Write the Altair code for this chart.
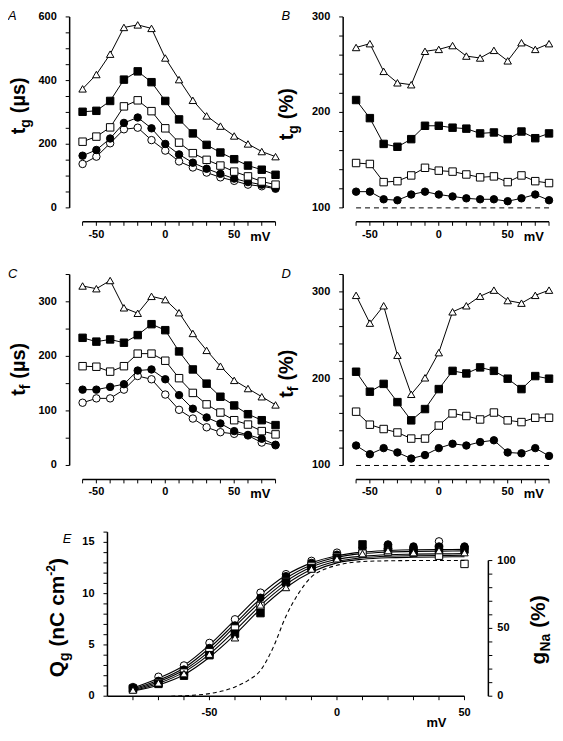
import altair as alt
import pandas as pd

FONT = "Liberation Sans"

# ---------------- data ----------------
mv = list(range(-60, 81, 10))
names = ["oci", "fci", "osq", "fsq", "tri"]
shape_range = ["circle", "circle", "square", "square", "triangle-up"]
fill_range = ["white", "black", "white", "black", "white"]
size_range = [56, 56, 72, 72, 80]

# Panel A: t_g (us)
a_tri = [374, 419, 483, 567, 575, 564, 471, 403, 338, 289, 257, 226, 201, 177, 161]
a_fsq = [302, 305, 336, 403, 429, 395, 336, 278, 234, 198, 174, 153, 133, 120, 104]
a_osq = [208, 224, 253, 319, 338, 304, 250, 205, 172, 151, 133, 114, 99, 83, 73]
a_fci = [164, 182, 218, 267, 284, 250, 201, 168, 142, 123, 107, 92, 81, 73, 62]
a_oci = [138, 161, 203, 247, 252, 213, 180, 146, 127, 111, 96, 85, 73, 68, 60]

# Panel B: t_g (%)
b_tri = [268, 272, 243, 231, 229, 264, 266, 270, 259, 257, 265, 254, 273, 266, 272]
b_fsq = [213, 194, 167, 164, 172, 186, 186, 184, 183, 178, 179, 172, 180, 173, 178]
b_osq = [147, 146, 127, 128, 134, 142, 139, 138, 135, 132, 133, 127, 134, 128, 126]
b_fci = [117, 117, 109, 108, 114, 117, 114, 112, 110, 109, 109, 107, 110, 114, 108]

# Panel C: t_f (us)
c_tri = [329, 324, 339, 289, 279, 310, 304, 280, 242, 211, 182, 156, 141, 126, 111]
c_fsq = [234, 227, 231, 225, 239, 259, 248, 209, 176, 150, 126, 110, 94, 83, 74]
c_osq = [182, 181, 172, 182, 205, 205, 192, 160, 133, 112, 97, 83, 75, 63, 57]
c_fci = [139, 139, 144, 149, 174, 176, 158, 129, 104, 88, 77, 63, 56, 49, 38]
c_oci = [115, 123, 123, 139, 164, 158, 130, 102, 86, 70, 61, 58, 55, 42, 37]

# Panel D: t_f (%)
d_tri = [296, 264, 284, 227, 182, 201, 230, 277, 284, 295, 302, 290, 287, 296, 302]
d_fsq = [208, 185, 194, 173, 152, 165, 188, 209, 206, 213, 209, 200, 188, 203, 200]
d_osq = [162, 147, 142, 138, 131, 131, 146, 160, 157, 153, 161, 152, 150, 155, 155]
d_fci = [123, 113, 120, 115, 108, 112, 120, 125, 123, 127, 129, 115, 114, 120, 111]

# Panel E: Q_g (nC cm-2)
e_mv = list(range(-80, 51, 10))
e_oci = [0.9, 1.9, 3.0, 5.2, 7.5, 10.1, 11.9, 13.2, 14.0, 14.1, 14.4, 14.3, 15.1, 14.4]
e_fci = [0.8, 1.5, 2.6, 4.7, 6.9, 9.6, 11.7, 13.0, 13.8, 14.4, 14.8, 14.6, 14.6, 14.6]
e_osq = [0.7, 1.3, 2.3, 4.3, 6.6, 8.8, 11.2, 12.7, 13.6, 13.9, 14.1, 14.0, 13.7, 12.9]
e_fsq = [0.75, 1.2, 2.0, 4.0, 6.1, 8.1, 11.1, 12.5, 13.5, 14.8, 14.5, 14.2, 14.4, 14.3]
e_tri = [0.6, 1.3, 2.2, 4.1, 5.7, 8.9, 10.6, 12.4, 13.4, 13.9, 14.2, 14.0, 14.2, 14.0]

# fitted curves at each 10 mV
fit1 = [0.8, 1.75, 3.0, 5.0, 7.45, 9.9, 11.8, 13.0, 13.7, 14.05, 14.2, 14.28, 14.3, 14.32]
fit2 = [0.7, 1.55, 2.75, 4.7, 7.1, 9.5, 11.5, 12.8, 13.55, 13.9, 14.05, 14.12, 14.15, 14.17]
fit3 = [0.6, 1.4, 2.55, 4.4, 6.8, 9.2, 11.2, 12.6, 13.35, 13.65, 13.8, 13.85, 13.88, 13.9]
fit4 = [0.55, 1.25, 2.35, 4.1, 6.4, 8.85, 10.9, 12.35, 13.15, 13.5, 13.65, 13.7, 13.72, 13.75]
fit5 = [0.5, 1.1, 2.1, 3.8, 6.0, 8.5, 10.6, 12.1, 13.0, 13.35, 13.5, 13.55, 13.58, 13.6]

# g_Na (%) dashed curve
gna_mv = [-65, -60, -55, -50, -45, -40, -35, -30, -25, -20, -15, -10, -5, 0, 10, 20, 30, 40, 50]
gna_pct = [0, 0.3, 0.9, 1.9, 3.8, 6.8, 11.5, 19, 36, 59, 76, 88, 93.5, 96.5, 99.3, 99.8, 100, 100, 100]

# axis tick / label values
x_ticks = mv
x_labels = [-50, 0, 50]
e_x_ticks = e_mv
e_y_ticks = list(range(0, 17))
e_y_labels = [0, 5, 10, 15]
gna_ticks = list(range(0, 101, 10))
gna_labels = [0, 50, 100]

# ---------------- helpers ----------------
CW = {"t": .333, "g": .611, " ": .278, "(": .333, ")": .333, "\u00b5": .611, "s": .556,
      "%": .889, "f": .333, "Q": .778, "n": .611, "C": .722, "c": .556, "m": .889,
      "-": .333, "2": .556, "N": .722, "a": .556}
LBL = dict(font=FONT, fontWeight="bold", fontSize=11, color="black")


def one(txt):
    return alt.Chart(pd.DataFrame({"t": [txt]}))


def vtitle(parts, bx, y0):
    """parts: (text, fontsize, dx, gap_before); rotated text reading bottom-to-top"""
    out = []
    y = y0
    for txt, size, dx, gap in parts:
        y -= gap
        w = sum(CW.get(ch, 0.556) for ch in txt) * size
        out.append(one(txt).mark_text(angle=270, align="left", baseline="alphabetic", font=FONT,
                                      fontWeight="bold", fontSize=size, color="black")
                   .encode(text="t:N", x=alt.value(bx + dx), y=alt.value(y)))
        y -= w
    return out


def letter(ch, x, y):
    return one(ch).mark_text(align="left", baseline="alphabetic", font=FONT, fontStyle="italic",
                             fontSize=13, color="black").encode(text="t:N", x=alt.value(x), y=alt.value(y))


def mv_label(xsc, xd, y):
    return one("mV").mark_text(align="center", baseline="middle", font=FONT, fontWeight="bold",
                               fontSize=13, color="black").encode(
        text="t:N", x=alt.X("p:Q", scale=xsc, axis=None), y=alt.value(y)).transform_calculate(p=str(xd))


def y_axis(sc, lo, hi, ticks, labels, ax, side="left", tl=4, gap=9):
    sgn = -1 if side == "left" else 1
    line = alt.Chart(pd.DataFrame({"lo": [lo], "hi": [hi]})).mark_rule(
        color="black", strokeWidth=1.5).encode(
        x=alt.value(ax), y=alt.Y("lo:Q", scale=sc, axis=None), y2="hi:Q")
    tk = alt.Chart(pd.DataFrame({"v": ticks})).mark_rule(color="black", strokeWidth=1).encode(
        x=alt.value(ax), x2=alt.value(ax + sgn * tl), y=alt.Y("v:Q", scale=sc, axis=None))
    lb = alt.Chart(pd.DataFrame({"v": labels, "lab": [str(v) for v in labels]})).mark_text(
        align="right" if side == "left" else "left", baseline="middle", **LBL).encode(
        x=alt.value(ax + sgn * (tl + gap)), y=alt.Y("v:Q", scale=sc, axis=None), text="lab:N")
    return [line, tk, lb]


def x_axis(sc, lo, hi, ticks, labels, ay, tl=4, lab_center=13):
    line = alt.Chart(pd.DataFrame({"lo": [lo], "hi": [hi]})).mark_rule(
        color="black", strokeWidth=1.5).encode(
        y=alt.value(ay), x=alt.X("lo:Q", scale=sc, axis=None), x2="hi:Q")
    tk = alt.Chart(pd.DataFrame({"v": ticks})).mark_rule(color="black", strokeWidth=1).encode(
        y=alt.value(ay), y2=alt.value(ay + tl), x=alt.X("v:Q", scale=sc, axis=None))
    lb = alt.Chart(pd.DataFrame({"v": labels, "lab": [str(v) for v in labels]})).mark_text(
        align="center", baseline="middle", **LBL).encode(
        y=alt.value(ay + lab_center), x=alt.X("v:Q", scale=sc, axis=None), text="lab:N")
    return [line, tk, lb]


shape_enc = alt.Shape("s:N", scale=alt.Scale(domain=names, range=shape_range), legend=None)
fill_enc = alt.Fill("s:N", scale=alt.Scale(domain=names, range=fill_range), legend=None)
size_enc = alt.Size("s:N", scale=alt.Scale(domain=names, range=size_range), legend=None)


def long_df(xs, series):
    rows = []
    for nm in names:
        if nm in series:
            for x, v in zip(xs, series[nm]):
                rows.append({"mv": x, "val": v, "s": nm})
    return pd.DataFrame(rows)


W, H = 194, 192


def panel(series, ydom, ystep, ylabs, let, tparts, tbx, ty0, rule100=False):
    df = long_df(mv, series)
    xsc = alt.Scale(domain=[-60, 80], nice=False, zero=False)
    ysc = alt.Scale(domain=ydom, nice=False, zero=False)
    layers = []
    if rule100:
        layers.append(alt.Chart(pd.DataFrame({"y": [100], "x1": [-60], "x2": [80]}))
                      .mark_rule(color="black", strokeDash=[5, 4], strokeWidth=1)
                      .encode(x=alt.X("x1:Q", scale=xsc, axis=None), x2="x2:Q",
                              y=alt.Y("y:Q", scale=ysc, axis=None)))
    base = alt.Chart(df)
    layers.append(base.mark_line(color="black", strokeWidth=1)
                  .encode(x=alt.X("mv:Q", scale=xsc, axis=None), y=alt.Y("val:Q", scale=ysc, axis=None),
                          detail="s:N"))
    layers.append(base.mark_point(filled=True, stroke="black", strokeWidth=1, opacity=1)
                  .encode(x=alt.X("mv:Q", scale=xsc, axis=None), y=alt.Y("val:Q", scale=ysc, axis=None),
                          shape=shape_enc, fill=fill_enc, size=size_enc))
    layers += y_axis(ysc, ydom[0], ydom[1], list(range(ydom[0], ydom[1] + 1, ystep)), ylabs, -13)
    layers += x_axis(xsc, -60, 80, x_ticks, x_labels, H + 14)
    layers += vtitle(tparts, tbx, ty0)
    layers.append(letter(let, -75, 3))
    layers.append(mv_label(xsc, 69, H + 29))
    return alt.layer(*layers).properties(width=W, height=H)


TS, SS = 20, 14
pA = panel({"tri": a_tri, "fsq": a_fsq, "osq": a_osq, "fci": a_fci, "oci": a_oci},
           [0, 600], 50, [0, 200, 400, 600], "A",
           [("t", TS, 0, 0), ("g", SS, 5, 0), ("(\u00b5s)", TS, 0, 6)], -58, 118)
pB = panel({"tri": b_tri, "fsq": b_fsq, "osq": b_osq, "fci": b_fci},
           [100, 300], 20, [100, 200, 300], "B",
           [("t", TS, 0, 0), ("g", SS, 5, 0), ("(%)", TS, 0, 6)], -63, 124, True)
pC = panel({"tri": c_tri, "fsq": c_fsq, "osq": c_osq, "fci": c_fci, "oci": c_oci},
           [0, 350], 50, [0, 100, 200, 300], "C",
           [("t", TS, 0, 0), ("f", SS, 5, 0), ("(\u00b5s)", TS, 0, 6)], -58, 122)
pD = panel({"tri": d_tri, "fsq": d_fsq, "osq": d_osq, "fci": d_fci},
           [100, 320], 20, [100, 200, 300], "D",
           [("t", TS, 0, 0), ("f", SS, 5, 0), ("(%)", TS, 0, 6)], -63, 124, True)

# ---------------- panel E ----------------
EPW = 384                     # pixel extent of E's data area from the column's left edge
EH = 165
ex_sc = alt.Scale(domain=[-90, 50], range=[25, EPW], nice=False, zero=False)
ey_sc = alt.Scale(domain=[0, 16], nice=False, zero=False)
eg_sc = alt.Scale(domain=[0, 100], range=[EH, 28.6], nice=False, zero=False)

fit_rows = []
for i, f in enumerate([fit1, fit2, fit3, fit4, fit5]):
    for x, v in zip(e_mv, f):
        fit_rows.append({"mv": x, "q": v, "c": i})
fit_df = pd.DataFrame(fit_rows)
e_df = long_df(e_mv, {"oci": e_oci, "fci": e_fci, "osq": e_osq, "fsq": e_fsq, "tri": e_tri})
e_df = e_df.rename(columns={"val": "q"})

curves = alt.Chart(fit_df).mark_line(color="black", strokeWidth=1.1, interpolate="monotone").encode(
    x=alt.X("mv:Q", scale=ex_sc, axis=None), y=alt.Y("q:Q", scale=ey_sc, axis=None), detail="c:N")
e_pts = alt.Chart(e_df).mark_point(filled=True, stroke="black", strokeWidth=1, opacity=1).encode(
    x=alt.X("mv:Q", scale=ex_sc, axis=None), y=alt.Y("q:Q", scale=ey_sc, axis=None),
    shape=shape_enc, fill=fill_enc, size=size_enc)

left_layers = [curves, e_pts]
left_layers += y_axis(ey_sc, 0, 16, e_y_ticks, e_y_labels, 25, gap=9)
left_layers += x_axis(ex_sc, -90, 50, e_x_ticks, e_x_labels if False else x_labels, EH, lab_center=17)
left_layers += vtitle([("Q", 21, 0, 0), ("g", SS, 5, 0), ("(nC", 21, 0, 6), ("cm", 21, 0, 6),
                       ("-2", 12, -9, 0), (")", 21, 0, 0)], -19, 146)
left_layers.append(letter("E", -20, 11))
left_layers.append(mv_label(ex_sc, 39, 192))
left_layers += vtitle([("g", 21, 0, 0), ("Na", SS, 5, 0), ("(%)", 21, 0, 6)], 465, 133)
left = alt.layer(*left_layers)

gna_df = pd.DataFrame({"mv": gna_mv, "pct": gna_pct})
right_layers = [alt.Chart(gna_df).mark_line(color="black", strokeWidth=1.1, strokeDash=[4, 3],
                                            interpolate="monotone").encode(
    x=alt.X("mv:Q", scale=ex_sc, axis=None), y=alt.Y("pct:Q", scale=eg_sc, axis=None))]
right_layers += y_axis(eg_sc, 0, 100, gna_ticks, gna_labels, EPW + 24, side="right", gap=5)
right = alt.layer(*right_layers)

pE = alt.layer(left, right).resolve_scale(y="independent").properties(width=W, height=EH)

chart = alt.concat(pA, pB, pC, pD, pE, columns=2, bounds="flush", align="none",
                   spacing=alt.RowColnumber(row=67, column=81)).properties(
    padding={"left": 0, "top": 0, "right": 0, "bottom": 0}, background="white"
).configure_view(stroke=None)

chart.save("out.html", embed_options={"renderer": "svg", "actions": False})
